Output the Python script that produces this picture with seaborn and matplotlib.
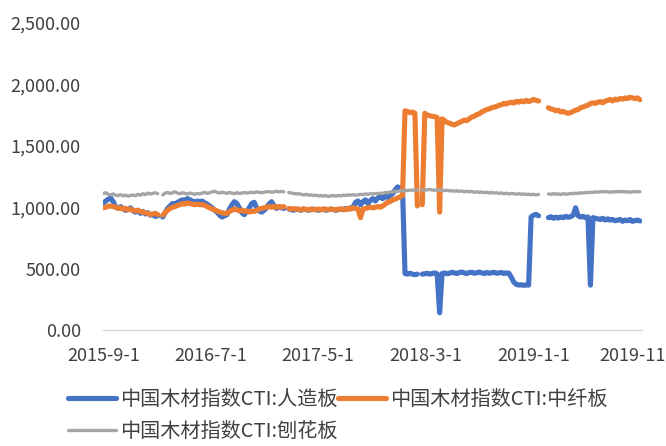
import numpy as np
import pandas as pd
import seaborn as sns
import matplotlib.pyplot as plt
from matplotlib.lines import Line2D
from matplotlib.ticker import FuncFormatter

# --- data: weekly readings from 2015-09-01, nan = holiday gap ---
nan = np.nan

blue = [
    1035, 1050, 1065, 1075, 1045, 1000, 990, 1005, 985, 975,
    980, 995, 970, 960, 975, 950, 965, 945, 955, 935,
    940, 925, 930,
    nan,
    920, 955, 990, 1010, 1030, 1025, 1040, 1050, 1060, 1055,
    1070, 1060, 1050, 1040, 1050, 1045, 1050, 1035, 1025, 1010,
    995, 975, 960, 935, 920, 930, 940, 985, 1020, 1045,
    1030, 995, 955, 940, 965, 995, 1030, 1040, 995, 970,
    960, 975, 995, 1025, 1045, 1015, 990, 1005, 995, 990,
    nan,
    985, 980, 975, 985, 980, 975, 985, 980, 975, 980,
    985, 980, 975, 980, 985, 975, 980, 985, 980, 975,
    980, 985, 980, 990, 985, 995, 1000, 1040, 1050, 1020,
    1045, 1060, 1030, 1055, 1070, 1050, 1075, 1085, 1070, 1090,
    1080, 1095, 1110, 1140, 1165, 1155, 1150, 460, 455, 462,
    455, 450, 455,
    nan,
    455, 458, 462, 455, 460, 465, 458, 140, 460, 465,
    458, 462, 470, 465, 460, 468, 472, 465, 460, 468,
    470, 462, 466, 472, 465, 460, 468, 462, 466, 470,
    462, 465, 468, 460, 465, 462, 430, 390, 372, 366,
    368, 364, 367, 365, 920, 935, 942, 930,
    nan, nan, nan,
    915, 922, 910, 918, 912, 920, 915, 925, 918, 922,
    935, 995, 930, 920, 925, 915, 920, 365, 915, 910,
    905, 900, 910, 895, 905, 895, 900, 890, 895, 900,
    885, 895, 890, 900, 885, 890, 895, 888,
]

orange = [
    995, 1000, 1008, 1010, 1005, 1000, 990, 995, 985, 990,
    978, 985, 975, 970, 975, 965, 960, 955, 950, 940,
    945, 950, 940,
    nan,
    935, 955, 975, 990, 1000, 1005, 1015, 1020, 1030, 1025,
    1035, 1030, 1025, 1020, 1025, 1020, 1022, 1015, 1005, 995,
    985, 978, 970, 960, 955, 950, 950, 965, 975, 985,
    980, 970, 978, 965, 970, 960, 968, 965, 975, 985,
    990, 995, 1000, 1005, 1000, 1005, 1000, 1005, 1000, 1005,
    nan,
    990, 985, 988, 982, 985, 980, 985, 982, 980, 985,
    980, 982, 985, 980, 983, 985, 980, 985, 982, 980,
    985, 982, 985, 980, 990, 985, 995, 990, 985, 915,
    985, 990, 995, 1000, 995, 1000, 1005, 1000, 1010, 1025,
    1040, 1045, 1060, 1065, 1075, 1085, 1095, 1785, 1780, 1770,
    1775, 1765, 1010,
    nan,
    1020, 1765, 1750, 1745, 1740, 1738, 1730, 960, 1720, 1705,
    1690, 1685, 1675, 1670, 1680, 1690, 1700, 1710, 1705, 1720,
    1735, 1740, 1755, 1760, 1775, 1785, 1795, 1800, 1810, 1815,
    1820, 1830, 1835, 1845, 1840, 1850, 1855, 1848, 1862, 1855,
    1865, 1858, 1870, 1860, 1868, 1878, 1870, 1865,
    nan, nan, nan,
    1810, 1800, 1795, 1785, 1790, 1775, 1780, 1770, 1765, 1770,
    1780, 1790, 1795, 1810, 1815, 1825, 1830, 1845, 1850, 1845,
    1855, 1860, 1850, 1865, 1870, 1878, 1865, 1880, 1875, 1885,
    1880, 1890, 1885, 1895, 1890, 1885, 1890, 1875,
]

grey = [
    1112, 1118, 1105, 1100, 1108, 1098, 1095, 1102, 1092, 1098,
    1090, 1095, 1100, 1093, 1105, 1098, 1110, 1102, 1115, 1108,
    1112, 1118, 1110,
    nan,
    1100, 1115, 1120, 1112, 1118, 1125, 1115, 1110, 1118, 1112,
    1108, 1115, 1110, 1105, 1112, 1108, 1115, 1120, 1112, 1118,
    1125, 1130, 1120, 1115, 1122, 1118, 1112, 1120, 1115, 1110,
    1118, 1112, 1115, 1120, 1115, 1118, 1122, 1118, 1125, 1120,
    1118, 1122, 1125, 1128, 1122, 1125, 1130, 1125, 1128, 1125,
    nan,
    1120, 1115, 1112, 1108, 1110, 1105, 1100, 1105, 1098, 1100,
    1095, 1098, 1092, 1095, 1090, 1095, 1088, 1092, 1095, 1090,
    1095, 1092, 1098, 1095, 1100, 1098, 1102, 1098, 1100, 1105,
    1102, 1108, 1105, 1110, 1108, 1112, 1110, 1115, 1112, 1120,
    1118, 1125, 1122, 1130, 1128, 1135, 1132, 1138, 1135, 1140,
    1138, 1142, 1140,
    nan,
    1138, 1142, 1140, 1145, 1140, 1138, 1142, 1136, 1140, 1135,
    1138, 1132, 1135, 1130, 1134, 1128, 1132, 1126, 1130, 1125,
    1128, 1122, 1126, 1120, 1124, 1118, 1122, 1116, 1120, 1115,
    1118, 1112, 1116, 1110, 1114, 1108, 1112, 1110, 1106, 1110,
    1105, 1108, 1104, 1106, 1102, 1105, 1100, 1104,
    nan, nan, nan,
    1108, 1105, 1110, 1106, 1108, 1104, 1110, 1106, 1108, 1112,
    1110, 1115, 1112, 1118, 1115, 1120, 1118, 1122, 1120, 1125,
    1122, 1126, 1124, 1128, 1125, 1122, 1126, 1124, 1128, 1125,
    1128, 1124, 1126, 1122, 1125, 1128, 1124, 1126,
]

names = ['中国木材指数CTI:人造板', '中国木材指数CTI:中纤板', '中国木材指数CTI:刨花板']
colors = ['#4472C4', '#ED7D31', '#A5A5A5']
widths = [3.7, 3.7, 2.4]

tick_dates = ['2015-09-01', '2016-07-01', '2017-05-01', '2018-03-01', '2019-01-01', '2019-11-01']
tick_labels = ['2015-9-1', '2016-7-1', '2017-5-1', '2018-3-1', '2019-1-1', '2019-11-1']
y_ticks = [0, 500, 1000, 1500, 2000, 2500]

dates = pd.date_range('2015-09-01', periods=len(blue), freq='7D')

# long table, one unit per unbroken stretch so the holiday gaps stay open
frames = []
for name, vals in zip(names, [blue, orange, grey]):
    vals = np.array(vals, dtype=float)
    seg = np.cumsum(np.isnan(vals))
    d = pd.DataFrame({'date': dates, 'value': vals, 'series': name, 'seg': seg})
    frames.append(d.dropna())
df = pd.concat(frames, ignore_index=True)

# --- style ---
sns.set_theme(style='white')
plt.rcParams['font.family'] = ['Noto Sans CJK SC', 'DejaVu Sans']
text_color = '#404040'

fig = plt.figure(figsize=(6.66, 4.46), dpi=100)
ax = fig.add_axes([103 / 666, 1 - 330 / 446, 539 / 666, 307 / 446])

sns.lineplot(
    data=df, x='date', y='value',
    hue='series', hue_order=names, palette=dict(zip(names, colors)),
    size='series', size_order=names, sizes=dict(zip(names, widths)),
    units='seg', estimator=None, legend=False, ax=ax,
)
for line in ax.get_lines():
    line.set_solid_capstyle('round')
    line.set_solid_joinstyle('round')

ax.set_xlim(pd.Timestamp('2015-08-31'), pd.Timestamp('2019-11-04'))
ax.set_ylim(0, 2500)
ax.set_xticks(pd.to_datetime(tick_dates))
ax.set_xticklabels(tick_labels)
ax.set_yticks(y_ticks)
ax.yaxis.set_major_formatter(FuncFormatter(lambda v, p: f'{v:,.2f}'))
ax.set_xlabel('')
ax.set_ylabel('')

ax.tick_params(axis='y', length=0, pad=16, labelsize=13, labelcolor=text_color)
ax.tick_params(axis='x', length=0, pad=12, labelsize=13, labelcolor=text_color)

for side in ['left', 'top', 'right']:
    ax.spines[side].set_visible(False)
ax.spines['bottom'].set_color('#D9D9D9')
ax.spines['bottom'].set_linewidth(1)

# legend: blue + orange on first row, grey below
handles = [Line2D([], [], color=c, lw=w) for c, w in zip(colors, widths)]
order = [0, 2, 1]
fig.legend(
    [handles[i] for i in order], [names[i] for i in order],
    ncol=2, loc='upper left', bbox_to_anchor=(68 / 666, 1 - 389 / 446),
    frameon=False, fontsize=14.5, labelcolor=text_color,
    handlelength=2.4, handletextpad=0.2, columnspacing=0.0,
    labelspacing=0.55, borderpad=0, borderaxespad=0,
)

fig.savefig('out.png', dpi=100)
